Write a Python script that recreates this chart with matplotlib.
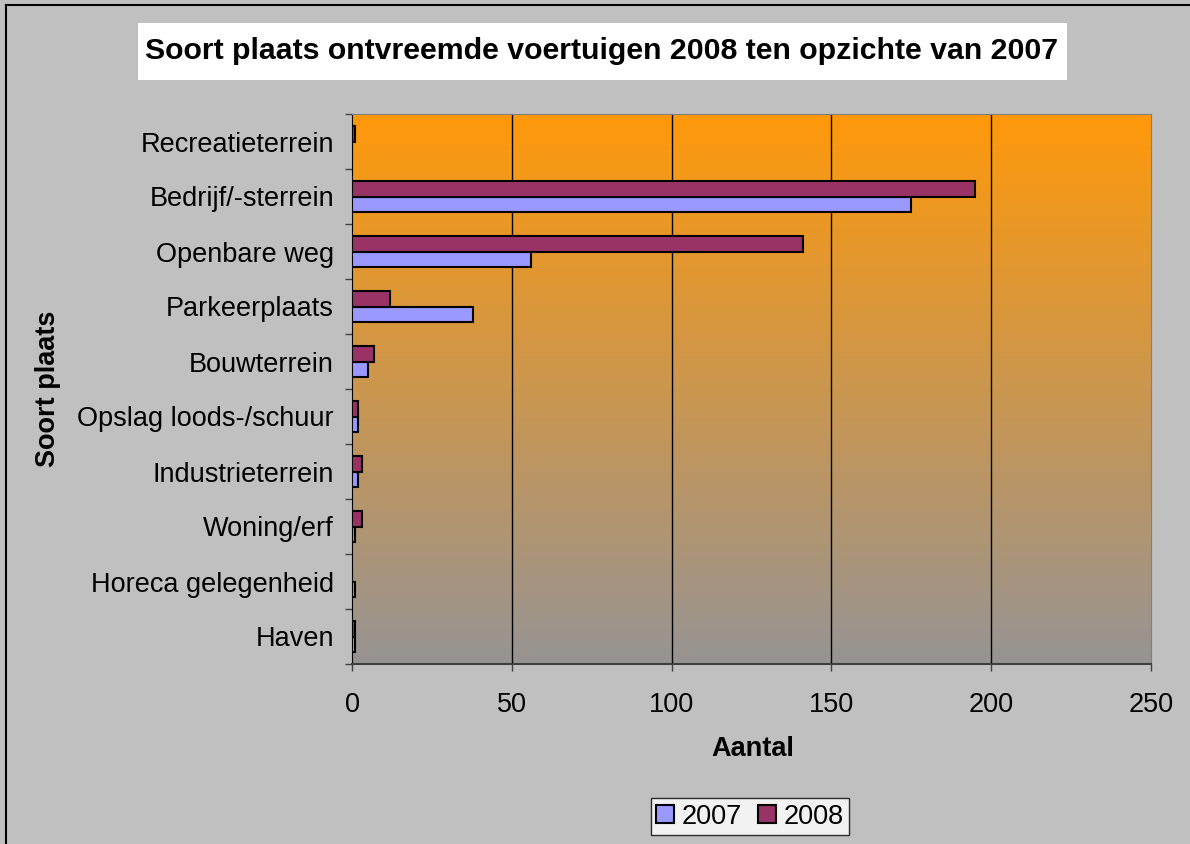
import matplotlib
matplotlib.use('Agg')
import matplotlib.pyplot as plt
from matplotlib.patches import Rectangle
import numpy as np

plt.rcParams['font.family'] = ['Liberation Sans', 'DejaVu Sans']

# data (bottom to top as drawn)
places = ['Haven', 'Horeca gelegenheid', 'Woning/erf', 'Industrieterrein',
          'Opslag loods-/schuur', 'Bouwterrein', 'Parkeerplaats',
          'Openbare weg', 'Bedrijf/-sterrein', 'Recreatieterrein']
count_2007 = [1, 1, 1, 2, 2, 5, 38, 56, 175, 0]
count_2008 = [1, 0, 3, 3, 2, 7, 12, 141, 195, 1]
x_ticks = [0, 50, 100, 150, 200, 250]

W, H = 1190, 844
fig = plt.figure(figsize=(W / 100, H / 100), dpi=100)
fig.patch.set_facecolor('#c0c0c0')

# chart area border (left + top visible)
fig.add_artist(plt.Line2D([6 / W, 6 / W], [0, 1 - 5 / H], color='black', lw=1.5))
fig.add_artist(plt.Line2D([6 / W, 1], [1 - 5 / H, 1 - 5 / H], color='black', lw=1.5))

# title box
fig.add_artist(Rectangle((138 / W, 1 - 80 / H), (1067 - 138) / W, 57 / H,
                         transform=fig.transFigure, facecolor='white', edgecolor='none'))
fig.text(602 / W, 1 - 51 / H, 'Soort plaats ontvreemde voertuigen 2008 ten opzichte van 2007',
         ha='center', va='center', fontsize=21.8, fontweight='bold')

ax = fig.add_axes([352 / W, 1 - 664 / H, (1151 - 352) / W, (664 - 114) / H])

# gradient background orange -> grey
top = np.array([1.0, 0.60, 0.04])
bot = np.array([0.59, 0.58, 0.58])
t = np.linspace(0, 1, 256)[:, None]
grad = (top * (1 - t) + bot * t)[:, None, :]
ax.imshow(grad, extent=[0, 250, -0.5, 9.5], aspect='auto', origin='upper', zorder=0)

for xv in x_ticks[1:-1]:
    ax.axvline(xv, color='black', lw=1, zorder=1)

y = np.arange(len(places))
h = 0.285
ax.barh(y - h / 2, count_2007, height=h, color='#9999ff', edgecolor='black', lw=1.5,
        label='2007', zorder=3)
ax.barh(y + h / 2, count_2008, height=h, color='#993366', edgecolor='black', lw=1.5,
        label='2008', zorder=3)

ax.set_xlim(0, 250)
ax.set_ylim(-0.5, 9.5)
ax.set_xticks(x_ticks)
ax.set_xticklabels([str(v) for v in x_ticks], fontsize=19.5)
ax.set_yticks(y)
ax.set_yticklabels(places, fontsize=19.5)
ax.set_yticks(np.arange(-0.5, 10, 1), minor=True)
ax.tick_params(axis='y', which='major', length=0, pad=13)
ax.tick_params(axis='y', which='minor', length=5, width=1, color='#404040')
ax.tick_params(axis='x', length=5, width=1, pad=15, color='#404040')

ax.spines['left'].set_color('black')
ax.spines['bottom'].set_color('#404040')
ax.spines['bottom'].set_linewidth(1.5)
ax.spines['top'].set_color('#808080')
ax.spines['right'].set_color('#808080')

fig.text(753 / W, 1 - 749 / H, 'Aantal', ha='center', va='center',
         fontsize=19.5, fontweight='bold')
fig.text(48 / W, 1 - 389 / H, 'Soort plaats', ha='center', va='center',
         fontsize=19.5, fontweight='bold', rotation=90)

leg = fig.legend(loc='center', bbox_to_anchor=(750 / W, 1 - 816.5 / H), ncol=2,
                 fontsize=19.5, frameon=True, fancybox=False, handlelength=0.65,
                 handleheight=0.65, handletextpad=0.3, columnspacing=0.6,
                 borderpad=0.2, borderaxespad=0)
leg.get_frame().set_edgecolor('black')
leg.get_frame().set_facecolor('white')
leg.get_frame().set_linewidth(1)

fig.savefig('out.png', dpi=100, facecolor=fig.get_facecolor())
